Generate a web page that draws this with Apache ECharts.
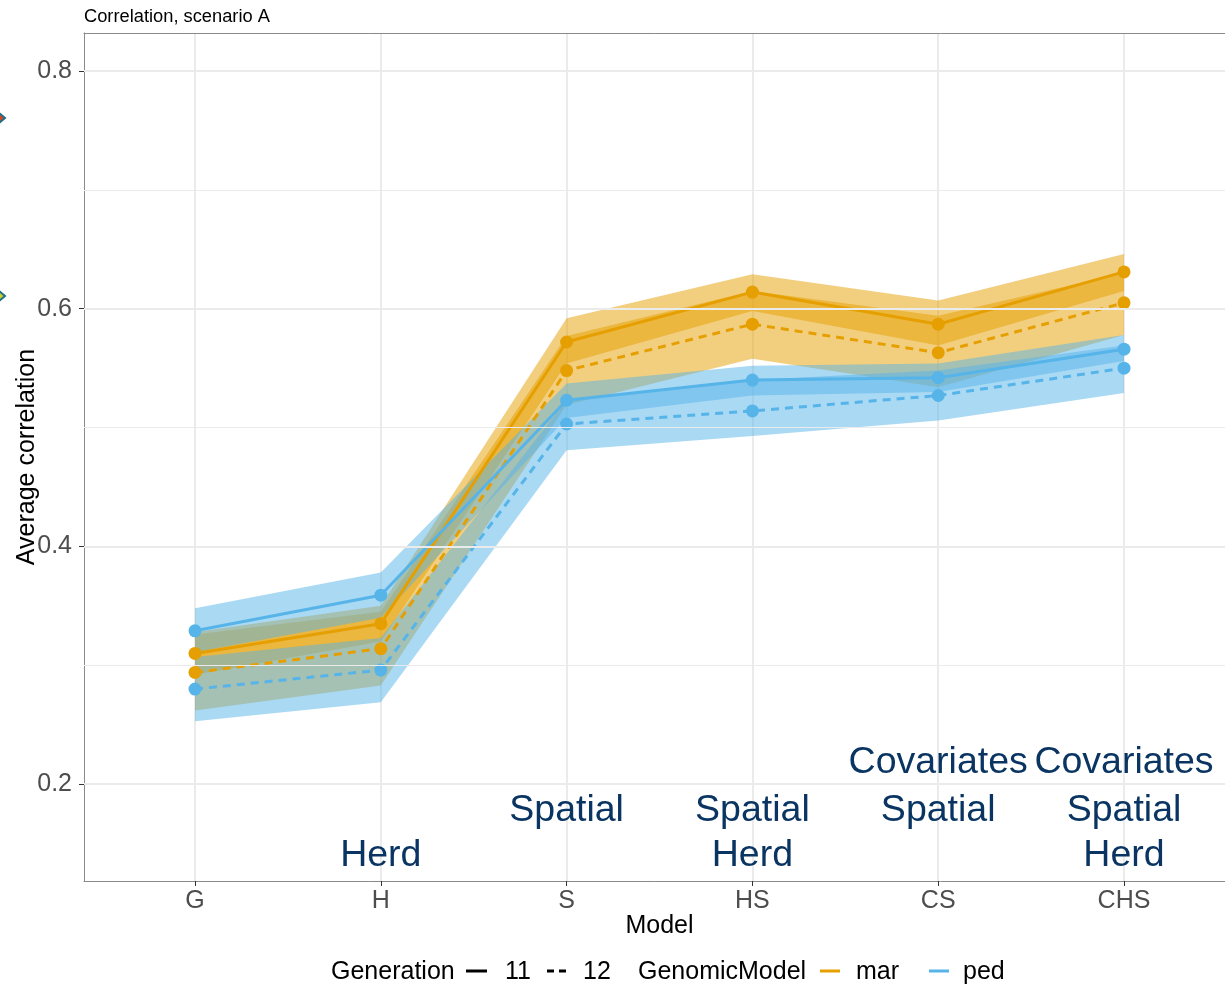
<!DOCTYPE html>
<html>
<head>
<meta charset="utf-8">
<title>Correlation, scenario A</title>
<script src="https://cdn.jsdelivr.net/npm/echarts@6/dist/echarts.min.js"></script>
<style>
  html, body { margin: 0; padding: 0; background: #ffffff; }
  #chart { width: 1225px; height: 989px; }
</style>
</head>
<body>
<div id="chart"></div>
<script>
// Models on the x axis
const models = ['G', 'H', 'S', 'HS', 'CS', 'CHS'];

// Average correlation, marker-based genomic model (mar)
const mar11 = [0.310, 0.335, 0.572, 0.614, 0.587, 0.631];
const mar11Lo = [0.292, 0.320, 0.554, 0.598, 0.569, 0.615];
const mar11Hi = [0.328, 0.350, 0.592, 0.629, 0.607, 0.646];
const mar12 = [0.294, 0.314, 0.548, 0.587, 0.563, 0.605];
const mar12Lo = [0.262, 0.283, 0.519, 0.558, 0.534, 0.578];
const mar12Hi = [0.326, 0.345, 0.577, 0.615, 0.594, 0.630];

// Average correlation, pedigree-based genomic model (ped)
const ped11 = [0.329, 0.359, 0.523, 0.540, 0.542, 0.566];
const ped11Lo = [0.311, 0.340, 0.508, 0.527, 0.530, 0.556];
const ped11Hi = [0.348, 0.378, 0.537, 0.552, 0.554, 0.578];
const ped12 = [0.280, 0.296, 0.503, 0.514, 0.527, 0.550];
const ped12Lo = [0.253, 0.269, 0.481, 0.493, 0.506, 0.529];
const ped12Hi = [0.307, 0.323, 0.523, 0.540, 0.548, 0.569];

// Model component annotations, one row per component
const labelCovariates = ['', '', '', '', 'Covariates', 'Covariates'];
const labelSpatial = ['', '', 'Spatial', 'Spatial', 'Spatial', 'Spatial'];
const labelHerd = ['', 'Herd', '', 'Herd', '', 'Herd'];

// Tick values
const yMajorTicks = [0.2, 0.4, 0.6, 0.8];
const yMinorTicks = [0.3, 0.5, 0.7];

// ---- layout / style ----
const Y_MIN = 0.1185, Y_MAX = 0.832;
const ROW_COVARIATES = 0.2181, ROW_SPATIAL = 0.1777, ROW_HERD = 0.1399;
const FONT = '"Liberation Sans", Arial, Helvetica, sans-serif';
const ORANGE = '#E69F00';
const BLUE = '#56B4E9';
const NAVY = '#0a3562';
const GRID_COLOR = '#ebebeb';
const FRAME_COLOR = '#8a8a8a';

const chart = echarts.init(document.getElementById('chart'), null, { renderer: 'canvas' });

function ribbon(lo, hi, color, key) {
  return [
    {
      type: 'line', xAxisIndex: 1, yAxisIndex: 1, stack: key, data: lo,
      symbol: 'none', silent: true, lineStyle: { opacity: 0 }, z: 2
    },
    {
      type: 'line', xAxisIndex: 1, yAxisIndex: 1, stack: key,
      data: hi.map((h, i) => +(h - lo[i]).toFixed(4)),
      symbol: 'none', silent: true, lineStyle: { opacity: 0 },
      areaStyle: { color: color, opacity: 0.5 }, z: 2
    }
  ];
}

function meanLine(values, color, dashed) {
  return {
    type: 'line', xAxisIndex: 1, yAxisIndex: 1, data: values,
    symbol: 'circle', symbolSize: 13, showSymbol: true,
    lineStyle: { color: color, width: 3, type: dashed ? [8, 6] : 'solid' },
    itemStyle: { color: color },
    z: 3
  };
}

function annotationRow(labels, rowValue) {
  const data = [];
  labels.forEach((txt, i) => { if (txt) data.push({ value: [models[i], rowValue], name: txt }); });
  return {
    type: 'scatter', xAxisIndex: 1, yAxisIndex: 1, data: data,
    symbolSize: 1, itemStyle: { color: 'rgba(0,0,0,0)', opacity: 1 }, silent: true, z: 4,
    label: {
      show: true, position: 'inside', formatter: p => p.name, opacity: 1,
      fontFamily: FONT, fontSize: 37.5, color: NAVY, textBorderWidth: 0
    }
  };
}

const gridLineData = yMajorTicks.map(v => ({ yAxis: v, lineStyle: { color: GRID_COLOR, width: 2 } }))
  .concat(yMinorTicks.map(v => ({ yAxis: v, lineStyle: { color: GRID_COLOR, width: 1 } })));

const series = [
  // horizontal panel grid on the outer frame
  {
    type: 'line', xAxisIndex: 0, yAxisIndex: 0, data: [], z: 1, silent: true,
    markLine: {
      silent: true, symbol: ['none', 'none'], label: { show: false },
      lineStyle: { type: 'solid' }, animation: false,
      data: gridLineData
    }
  }
]
  .concat(ribbon(mar11Lo, mar11Hi, ORANGE, 'm11'))
  .concat(ribbon(mar12Lo, mar12Hi, ORANGE, 'm12'))
  .concat(ribbon(ped11Lo, ped11Hi, BLUE, 'p11'))
  .concat(ribbon(ped12Lo, ped12Hi, BLUE, 'p12'))
  .concat([
    meanLine(mar11, ORANGE, false),
    meanLine(mar12, ORANGE, true),
    meanLine(ped11, BLUE, false),
    meanLine(ped12, BLUE, true),
    annotationRow(labelCovariates, ROW_COVARIATES),
    annotationRow(labelSpatial, ROW_SPATIAL),
    annotationRow(labelHerd, ROW_HERD)
  ]);

// legend drawn as plain graphics
const LEG_Y = 971;
const legendText = (txt, x) => ({
  type: 'text', x: x, y: LEG_Y + 1, silent: true,
  style: { text: txt, font: '25px ' + FONT, fill: '#000000', verticalAlign: 'middle', align: 'left' }
});
const legendKey = (x1, x2, color, dash) => ({
  type: 'line', silent: true,
  shape: { x1: x1, y1: LEG_Y, x2: x2, y2: LEG_Y },
  style: { stroke: color, lineWidth: 3, lineDash: dash || null }
});
const diamond = (cx, cy, fill) => ({
  type: 'polygon', silent: true,
  shape: { points: [[cx, cy - 11], [cx + 13, cy], [cx, cy + 11], [cx - 13, cy]] },
  style: { fill: fill, stroke: '#1b7286', lineWidth: 2 }
});

const frameLine = { show: true, lineStyle: { color: FRAME_COLOR, width: 1 } };

const option = {
  animation: false,
  backgroundColor: '#ffffff',
  title: {
    text: 'Correlation, scenario A', left: 84, top: 8, padding: 0,
    textStyle: { fontFamily: FONT, fontSize: 18.3, fontWeight: 'normal', color: '#000000' }
  },
  grid: [
    { left: 84, top: 33, width: 1151, height: 848, show: false, containLabel: false, outerBoundsMode: 'none' },
    { left: 195, top: 33, width: 929, height: 848, show: false, containLabel: false, outerBoundsMode: 'none' }
  ],
  xAxis: [
    {
      gridIndex: 0, type: 'value', min: 0, max: 1, position: 'bottom',
      name: 'Model', nameLocation: 'middle', nameGap: 33, nameMoveOverlap: false,
      nameTextStyle: { fontFamily: FONT, fontSize: 25, color: '#000000' },
      axisLine: frameLine, axisTick: { show: false }, axisLabel: { show: false }, splitLine: { show: false }
    },
    {
      gridIndex: 1, type: 'category', data: models, boundaryGap: false,
      axisLine: { show: false },
      axisTick: { show: true, length: 5, lineStyle: { color: '#333333', width: 1 } },
      axisLabel: { fontFamily: FONT, fontSize: 25, color: '#4d4d4d', margin: 8 },
      splitLine: { show: true, lineStyle: { color: GRID_COLOR, width: 2 } }
    },
    {
      gridIndex: 0, type: 'value', min: 0, max: 1, position: 'top',
      axisLine: frameLine, axisTick: { show: false }, axisLabel: { show: false }, splitLine: { show: false }
    }
  ],
  yAxis: [
    {
      gridIndex: 0, type: 'value', min: Y_MIN, max: Y_MAX,
      name: 'Average correlation', nameLocation: 'middle', nameGap: 44, nameMoveOverlap: false,
      nameTextStyle: { fontFamily: FONT, fontSize: 25, color: '#000000' },
      axisLine: frameLine,
      axisTick: { show: true, length: 5, customValues: yMajorTicks, lineStyle: { color: '#333333', width: 1 } },
      axisLabel: {
        show: true, customValues: yMajorTicks, margin: 12,
        fontFamily: FONT, fontSize: 25, color: '#4d4d4d',
        formatter: v => v.toFixed(1)
      },
      splitLine: { show: false }
    },
    {
      gridIndex: 1, type: 'value', min: Y_MIN, max: Y_MAX, show: false,
      splitLine: { show: false }
    }
  ],
  graphic: [
    diamond(-8, 118, '#d6452b'),
    diamond(-8, 296, '#c9d12a'),
    legendText('Generation', 331),
    legendKey(466, 487, '#000000'),
    legendText('11', 505),
    legendKey(547, 566, '#000000', [7, 5]),
    legendText('12', 583),
    legendText('GenomicModel', 638),
    legendKey(820, 840, ORANGE),
    legendText('mar', 856),
    legendKey(929, 949, BLUE),
    legendText('ped', 963)
  ],
  series: series
};

chart.setOption(option);
</script>
</body>
</html>
